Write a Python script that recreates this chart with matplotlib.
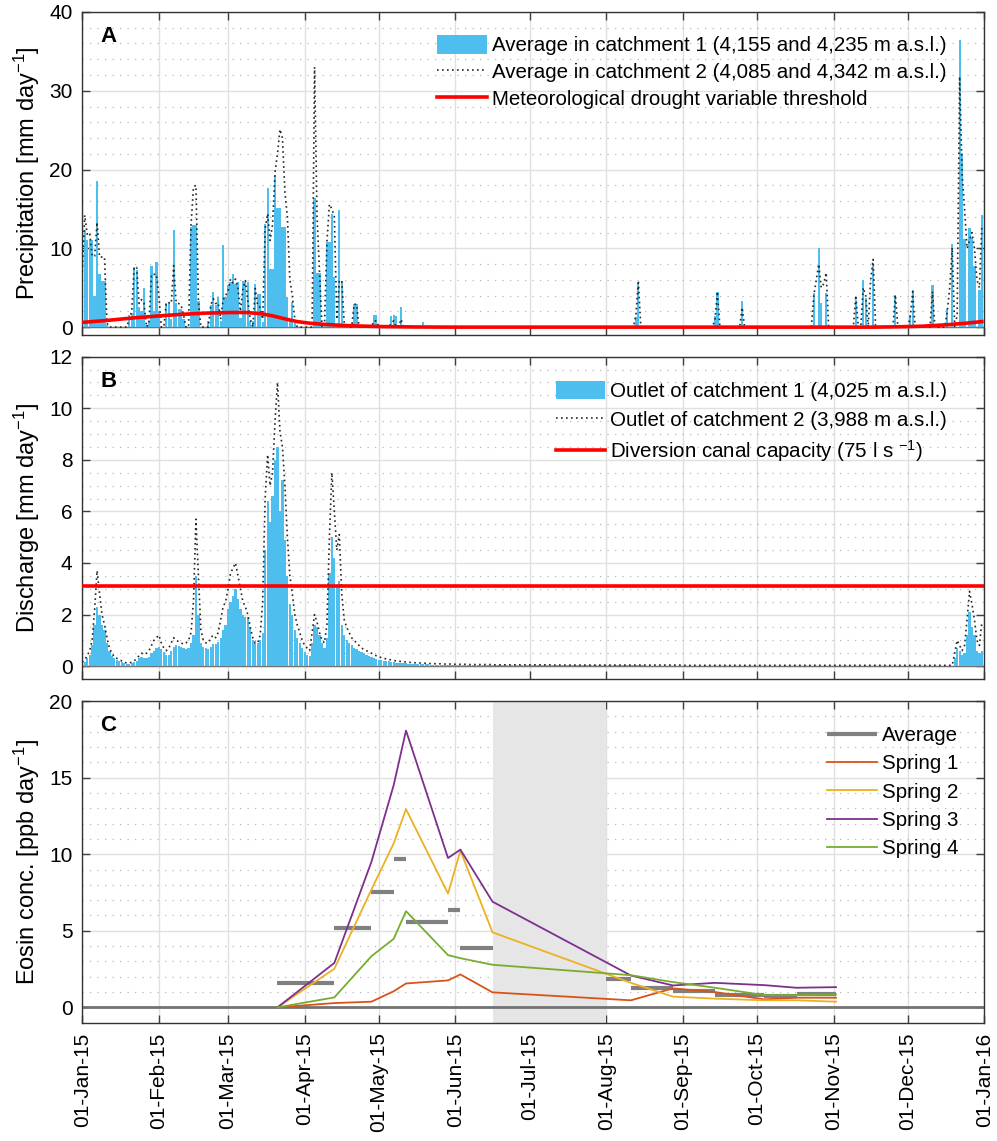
import numpy as np
import matplotlib.pyplot as plt
import matplotlib.dates as mdates
from matplotlib.ticker import MultipleLocator

plt.rcParams['font.family'] = ['Liberation Sans', 'DejaVu Sans']
plt.rcParams['mathtext.default'] = 'regular'

## DATA ##
year_start = np.datetime64('2015-01-01')
n_days = 365

# Precipitation, catchment 1 (bars): day of year (0 = 1 Jan) and value [mm/day]
p1_day = [0, 1, 2, 3, 4, 5, 6, 7, 8, 9, 10, 19, 20, 21, 22, 23, 24, 25, 26, 27,
          28, 29, 30, 31, 34, 35, 36, 37, 38, 39, 40, 41, 44, 45, 46, 47, 51, 52, 53, 54,
          55, 56, 57, 58, 59, 60, 61, 62, 63, 64, 65, 66, 67, 68, 69, 70, 71, 72, 73, 74,
          75, 76, 77, 78, 79, 80, 81, 82, 83, 84, 85, 86, 94, 95, 96, 99, 100, 101, 102, 103,
          104, 105, 106, 110, 111, 118, 119, 125, 126, 127, 129, 138, 224, 225, 256, 257, 267, 296, 298, 299,
          301, 313, 316, 317, 320, 329, 335, 336, 344, 350, 352, 355, 356, 357, 359, 360, 361, 363, 364]
p1_val = [3.0, 12.3, 11.1, 11.1, 11.0, 4.0, 18.5, 6.7, 5.8, 5.8, 0.3, 1.6, 1.8, 7.6, 7.3, 2.5, 2.0, 5.0, 0.3, 0.8,
          7.8, 2.0, 8.3, 2.0, 3.1, 3.1, 1.0, 12.3, 3.1, 2.3, 2.3, 1.0, 12.7, 13.0, 13.0, 3.3, 0.8, 2.8, 4.5, 2.8,
          3.8, 0.8, 10.4, 3.8, 5.4, 5.7, 6.7, 5.5, 5.7, 1.2, 5.9, 5.7, 5.7, 0.8, 0.8, 5.5, 4.2, 4.2, 0.6, 13.1,
          17.6, 7.4, 7.4, 19.3, 15.1, 15.1, 12.7, 12.7, 3.8, 1.0, 3.2, 0.5, 16.4, 6.9, 6.9, 10.8, 10.8, 14.4, 6.3, 0.3,
          14.9, 5.9, 0.3, 2.9, 2.9, 1.55, 1.5, 1.4, 1.6, 1.4, 2.6, 0.7, 1.3, 5.4, 1.4, 4.5, 3.3, 4.3, 10.0, 3.1,
          4.3, 3.4, 6.0, 3.7, 7.8, 4.1, 1.6, 4.7, 5.4, 2.3, 10.6, 36.5, 22.1, 11.2, 12.6, 11.3, 7.8, 4.7, 14.2]

# Precipitation, catchment 2 (dotted line)
p2_day = [0, 1, 2, 3, 4, 5, 6, 7, 8, 9, 10, 19, 20, 21, 22, 23, 24, 25, 27, 28,
          29, 30, 31, 34, 35, 36, 37, 38, 39, 40, 41, 44, 45, 46, 47, 52, 53, 54, 55, 56,
          57, 58, 59, 60, 61, 62, 63, 64, 65, 66, 67, 68, 70, 71, 72, 73, 74, 75, 76, 77,
          78, 79, 80, 81, 82, 83, 84, 85, 86, 94, 95, 96, 99, 100, 101, 102, 103, 104, 105, 106,
          110, 111, 118, 119, 125, 126, 129, 224, 225, 256, 257, 267, 296, 297, 298, 299, 300, 301, 313, 316,
          317, 319, 320, 329, 335, 336, 344, 350, 351, 352, 354, 355, 356, 357, 358, 359, 360, 361, 362, 363, 364]
p2_val = [7.0, 14.2, 11.8, 12.0, 9.0, 9.0, 13.3, 8.9, 8.9, 8.9, 0.5, 1.0, 2.0, 7.6, 7.6, 3.0, 3.5, 3.0, 0.5, 6.7,
          6.7, 6.7, 4.0, 3.1, 3.1, 3.0, 7.8, 3.1, 3.0, 2.8, 1.5, 12.9, 17.8, 18.0, 3.3, 2.8, 3.6, 3.0, 3.1, 1.0,
          3.5, 4.0, 4.6, 6.1, 5.6, 6.1, 4.9, 2.0, 4.9, 5.9, 3.3, 1.0, 4.9, 2.7, 2.5, 1.0, 12.5, 14.4, 11.0, 13.0,
          19.7, 22.0, 25.1, 24.0, 17.1, 14.0, 6.0, 4.0, 1.0, 33.0, 14.0, 6.9, 10.8, 15.6, 15.0, 14.0, 1.0, 5.9, 5.9, 0.5,
          2.9, 2.9, 0.8, 0.8, 0.5, 0.8, 1.0, 1.5, 5.9, 1.0, 4.5, 2.5, 4.0, 6.0, 8.0, 5.0, 5.5, 6.9, 4.0, 5.0,
          4.0, 6.0, 8.6, 4.1, 1.2, 4.5, 4.5, 2.0, 5.0, 10.1, 1.5, 31.8, 19.5, 15.0, 10.0, 11.0, 12.0, 10.0, 6.0, 5.0, 13.0]

# Meteorological drought variable threshold
thr_day = [0, 10, 20, 30, 40, 50, 60, 66, 72, 77, 82, 87, 92, 97, 104, 111, 121, 135, 150,
           320, 330, 340, 350, 357, 364]
thr_val = [0.6, 0.85, 1.15, 1.4, 1.62, 1.78, 1.85, 1.86, 1.72, 1.43, 1.05, 0.7, 0.5, 0.37, 0.24, 0.15, 0.07, 0.02, 0.0,
           0.0, 0.04, 0.12, 0.3, 0.48, 0.7]

# Discharge, outlet of catchment 1 (bars), daily values per month
q1_months = [
    [0.10, 0.15, 0.30, 0.45, 0.80, 1.60, 2.30, 2.00, 1.60, 1.40, 0.90, 0.60, 0.40, 0.30, 0.25, 0.20,
     0.15, 0.12, 0.10, 0.10, 0.12, 0.15, 0.20, 0.30, 0.35, 0.30, 0.30, 0.35, 0.50, 0.60, 0.70],
    [0.75, 0.65, 0.55, 0.45, 0.45, 0.60, 0.75, 0.80, 0.78, 0.75, 0.70, 0.65, 0.70, 0.90, 1.20, 3.50,
     2.00, 0.90, 0.75, 0.70, 0.65, 0.75, 0.85, 0.85, 0.95, 1.10, 1.40, 1.60],
    [2.20, 2.50, 2.70, 3.00, 2.60, 2.20, 2.00, 1.90, 1.90, 1.50, 1.00, 0.90, 0.90, 1.00, 1.30, 4.50,
     6.40, 5.60, 6.60, 8.00, 8.50, 6.00, 7.20, 4.90, 3.50, 2.40, 2.00, 1.40, 1.10, 0.90, 0.70],
    [0.55, 0.45, 0.40, 0.90, 1.60, 1.50, 1.20, 0.90, 0.70, 1.10, 3.60, 5.00, 4.20, 3.10, 3.30, 1.60,
     1.20, 1.00, 0.90, 0.80, 0.70, 0.65, 0.60, 0.55, 0.50, 0.45, 0.40, 0.35, 0.30, 0.27],
    [0.25, 0.23, 0.21, 0.20, 0.18, 0.17, 0.15, 0.14, 0.13, 0.12, 0.12, 0.11, 0.10, 0.10, 0.09, 0.09,
     0.08, 0.08, 0.07, 0.07, 0.07, 0.06, 0.06, 0.06, 0.05, 0.05, 0.05, 0.05, 0.04, 0.04, 0.04],
    [0.04, 0.04, 0.04, 0.04, 0.04, 0.04, 0.04, 0.04, 0.04, 0.04, 0.04, 0.04, 0.04, 0.04, 0.04, 0.03,
     0.03, 0.03, 0.03, 0.03, 0.03, 0.03, 0.03, 0.03, 0.03, 0.03, 0.03, 0.03, 0.03, 0.03],
    [0.03, 0.03, 0.03, 0.03, 0.03, 0.03, 0.03, 0.03, 0.03, 0.03, 0.03, 0.03, 0.03, 0.03, 0.03, 0.03,
     0.03, 0.03, 0.03, 0.03, 0.03, 0.03, 0.03, 0.03, 0.03, 0.03, 0.03, 0.03, 0.03, 0.03, 0.03],
    [0.03, 0.03, 0.03, 0.03, 0.03, 0.03, 0.03, 0.03, 0.03, 0.03, 0.03, 0.03, 0.03, 0.03, 0.03, 0.03,
     0.02, 0.02, 0.02, 0.02, 0.02, 0.02, 0.02, 0.02, 0.02, 0.02, 0.02, 0.02, 0.02, 0.02, 0.02],
    [0.02, 0.02, 0.02, 0.02, 0.02, 0.02, 0.02, 0.02, 0.02, 0.02, 0.02, 0.02, 0.02, 0.02, 0.02, 0.02,
     0.02, 0.02, 0.02, 0.02, 0.02, 0.02, 0.02, 0.02, 0.02, 0.02, 0.02, 0.02, 0.02, 0.02],
    [0.02, 0.02, 0.02, 0.02, 0.02, 0.02, 0.02, 0.02, 0.02, 0.02, 0.02, 0.02, 0.02, 0.02, 0.02, 0.02,
     0.02, 0.02, 0.02, 0.02, 0.02, 0.02, 0.02, 0.02, 0.02, 0.02, 0.02, 0.02, 0.02, 0.02, 0.02],
    [0.02, 0.02, 0.02, 0.02, 0.02, 0.02, 0.02, 0.02, 0.02, 0.02, 0.02, 0.02, 0.02, 0.02, 0.02, 0.02,
     0.02, 0.02, 0.02, 0.02, 0.02, 0.02, 0.02, 0.02, 0.02, 0.02, 0.02, 0.02, 0.02, 0.02],
    [0.02, 0.02, 0.02, 0.02, 0.02, 0.02, 0.02, 0.02, 0.02, 0.02, 0.02, 0.02, 0.02, 0.02, 0.02, 0.02,
     0.02, 0.02, 0.02, 0.30, 0.70, 0.60, 0.45, 0.50, 1.20, 2.10, 1.50, 1.20, 0.60, 0.50, 0.60],
]

# Discharge, outlet of catchment 2 (dotted line)
q2_months = [
    [0.15, 0.25, 0.40, 0.60, 1.00, 2.20, 3.70, 2.80, 2.00, 1.60, 1.10, 0.70, 0.50, 0.35, 0.30, 0.25,
     0.20, 0.15, 0.12, 0.12, 0.15, 0.20, 0.30, 0.40, 0.50, 0.45, 0.50, 0.60, 0.80, 1.00, 1.10],
    [1.20, 0.90, 0.70, 0.60, 0.70, 0.90, 1.10, 1.00, 0.95, 0.90, 0.85, 0.90, 1.00, 1.30, 2.50, 5.70,
     3.50, 1.40, 1.00, 0.90, 0.90, 1.10, 1.20, 1.10, 1.30, 1.80, 2.30, 2.50],
    [3.00, 3.60, 3.80, 4.00, 3.50, 3.00, 2.50, 2.30, 2.00, 1.50, 1.10, 0.90, 0.90, 1.20, 2.50, 6.50,
     8.20, 7.00, 7.50, 9.50, 11.00, 9.10, 8.50, 7.00, 5.00, 3.50, 2.80, 2.00, 1.60, 1.30, 1.00],
    [0.80, 0.70, 0.60, 1.30, 2.00, 1.70, 1.30, 1.00, 0.90, 1.60, 5.00, 7.50, 6.00, 4.50, 5.10, 2.80,
     1.80, 1.50, 1.30, 1.10, 1.00, 0.90, 0.80, 0.70, 0.65, 0.60, 0.55, 0.50, 0.45, 0.40],
    [0.36, 0.33, 0.30, 0.28, 0.26, 0.24, 0.22, 0.20, 0.19, 0.18, 0.17, 0.16, 0.15, 0.14, 0.13, 0.13,
     0.12, 0.12, 0.11, 0.11, 0.10, 0.10, 0.10, 0.09, 0.09, 0.09, 0.08, 0.08, 0.08, 0.08, 0.07],
    [0.07, 0.07, 0.07, 0.07, 0.07, 0.06, 0.06, 0.06, 0.06, 0.06, 0.06, 0.06, 0.06, 0.06, 0.06, 0.05,
     0.05, 0.05, 0.05, 0.05, 0.05, 0.05, 0.05, 0.05, 0.05, 0.05, 0.05, 0.05, 0.05, 0.05],
    [0.05, 0.05, 0.05, 0.05, 0.05, 0.05, 0.05, 0.05, 0.05, 0.05, 0.04, 0.04, 0.04, 0.04, 0.04, 0.04,
     0.04, 0.04, 0.04, 0.04, 0.04, 0.04, 0.04, 0.04, 0.04, 0.04, 0.04, 0.04, 0.04, 0.04, 0.04],
    [0.04, 0.04, 0.04, 0.04, 0.04, 0.04, 0.04, 0.04, 0.04, 0.04, 0.04, 0.04, 0.04, 0.04, 0.04, 0.04,
     0.04, 0.04, 0.04, 0.04, 0.04, 0.04, 0.04, 0.04, 0.04, 0.04, 0.04, 0.04, 0.04, 0.04, 0.04],
    [0.03, 0.03, 0.03, 0.03, 0.03, 0.03, 0.03, 0.03, 0.03, 0.03, 0.03, 0.03, 0.03, 0.03, 0.03, 0.03,
     0.03, 0.03, 0.03, 0.03, 0.03, 0.03, 0.03, 0.03, 0.03, 0.03, 0.03, 0.03, 0.03, 0.03],
    [0.03, 0.03, 0.03, 0.03, 0.03, 0.03, 0.03, 0.03, 0.03, 0.03, 0.03, 0.03, 0.03, 0.03, 0.03, 0.03,
     0.03, 0.03, 0.03, 0.03, 0.03, 0.03, 0.03, 0.03, 0.03, 0.03, 0.03, 0.03, 0.03, 0.03, 0.03],
    [0.03, 0.03, 0.03, 0.03, 0.03, 0.03, 0.03, 0.03, 0.03, 0.03, 0.03, 0.03, 0.03, 0.03, 0.03, 0.03,
     0.03, 0.03, 0.03, 0.03, 0.03, 0.03, 0.03, 0.03, 0.03, 0.03, 0.03, 0.03, 0.03, 0.03],
    [0.03, 0.03, 0.03, 0.03, 0.03, 0.03, 0.03, 0.03, 0.03, 0.03, 0.03, 0.03, 0.03, 0.03, 0.03, 0.03,
     0.03, 0.03, 0.03, 0.50, 1.00, 0.80, 0.60, 0.80, 1.80, 2.90, 2.40, 1.80, 1.00, 0.80, 1.70],
]

canal_capacity = 3.1  # mm/day (75 l/s)

# Eosin concentrations: sampling dates and values [ppb/day]
sample_dates = ['2015-03-21', '2015-04-13', '2015-04-28', '2015-05-07', '2015-05-12', '2015-05-29',
                '2015-06-03', '2015-06-16', '2015-08-11', '2015-08-28', '2015-09-14', '2015-10-04',
                '2015-10-17', '2015-11-02']
spring1 = [0, 0.28, 0.37, 1.05, 1.56, 1.76, 2.15, 0.98, 0.46, 1.24, 1.0, 0.52, 0.63, 0.63]
spring2 = [0, 2.52, 7.69, 10.7, 12.94, 7.43, 10.23, 4.9, 1.6, 0.7, 0.57, 0.46, 0.46, 0.37]
spring3 = [0, 2.9, 9.5, 14.5, 18.07, 9.75, 10.3, 6.9, 2.08, 1.43, 1.6, 1.45, 1.28, 1.32]
spring4 = [0, 0.65, 3.34, 4.47, 6.28, 3.41, 3.21, 2.78, 2.1, 1.65, 1.28, 0.8, 0.8, 0.85]

avg_start = ['2015-03-21', '2015-04-13', '2015-04-28', '2015-05-07', '2015-05-12', '2015-05-29',
             '2015-06-03', '2015-08-01', '2015-08-11', '2015-08-28', '2015-09-14', '2015-10-04',
             '2015-10-17']
avg_end = ['2015-04-13', '2015-04-28', '2015-05-07', '2015-05-12', '2015-05-29', '2015-06-03',
           '2015-06-16', '2015-08-11', '2015-08-28', '2015-09-14', '2015-10-04', '2015-10-17',
           '2015-11-02']
avg_val = [1.56, 5.21, 7.54, 9.7, 5.58, 6.38, 3.89, 1.82, 1.24, 1.1, 0.8, 0.74, 0.85]

gap_period = ['2015-06-16', '2015-08-01']  # no sampling (shaded)

## BUILD DAILY SERIES ##
dates = year_start + np.arange(n_days)
p1 = np.zeros(n_days)
p1[p1_day] = p1_val
p2 = np.zeros(n_days)
p2[p2_day] = p2_val
q1 = np.concatenate([np.array(m) for m in q1_months])
q2 = np.concatenate([np.array(m) for m in q2_months])
thr_dates = year_start + np.array(thr_day)
s_dates = np.array(sample_dates, dtype='datetime64[D]')

blue = '#4DBEEE'
spring_colors = ['#D95319', '#EDB120', '#7E2F8E', '#77AC30']
fs_tick = 15
fs_lab = 17
fs_leg = 14.8
leg_kw = dict(frameon=False, fontsize=fs_leg, handlelength=2.4, handletextpad=0.25,
              borderpad=0, borderaxespad=0)


def style_axis(ax, ymin, ymax, major, minor):
    ax.set_xlim(np.datetime64('2015-01-01'), np.datetime64('2016-01-01'))
    ax.set_ylim(ymin, ymax)
    ax.yaxis.set_major_locator(MultipleLocator(major))
    ax.yaxis.set_minor_locator(MultipleLocator(minor))
    ax.xaxis.set_major_locator(mdates.MonthLocator())
    ax.xaxis.set_major_formatter(mdates.DateFormatter('%d-%b-%y'))
    ax.set_axisbelow(True)
    ax.grid(True, which='major', color='0.88', lw=1.0, ls='-')
    ax.grid(True, which='minor', axis='y', color='0.72', lw=0.9, ls=(0, (1, 5)))
    ax.tick_params(which='major', direction='in', length=6, width=1, top=True, right=True,
                   color='0.25', labelsize=fs_tick, pad=7)
    ax.tick_params(which='minor', length=0)
    for s in ax.spines.values():
        s.set_color('0.2')
        s.set_linewidth(1.0)


fig = plt.figure(figsize=(9.97, 11.41), dpi=100)
ax1 = fig.add_axes([0.0825, 0.7064, 0.9048, 0.2831])
ax2 = fig.add_axes([0.0825, 0.4049, 0.9048, 0.2825])
ax3 = fig.add_axes([0.0825, 0.1037, 0.9048, 0.2819])

# Panel A: precipitation
bars1 = ax1.bar(dates, p1, width=0.9, color=blue, edgecolor='none', zorder=2)
line2, = ax1.plot(dates, p2, ls=(0, (1, 2)), color='0.15', lw=1.2, zorder=3)
thr_line, = ax1.plot(thr_dates, thr_val, color='red', lw=2.6, zorder=4)
ax1.axhline(0, color='0.45', lw=1.0, zorder=1.5)
style_axis(ax1, -1, 40, 10, 2)
ax1.tick_params(labelbottom=False)
ax1.set_ylabel('Precipitation [mm day$^{-1}$]', fontsize=fs_lab, labelpad=5)
ax1.text(0.02, 0.923, 'A', transform=ax1.transAxes, fontsize=16, fontweight='bold', va='center')
ax1.legend([bars1, line2, thr_line],
           ['Average in catchment 1 (4,155 and 4,235 m a.s.l.)',
            'Average in catchment 2 (4,085 and 4,342 m a.s.l.)',
            'Meteorological drought variable threshold'],
           loc='upper right', bbox_to_anchor=(0.958, 0.928), handleheight=1.0, labelspacing=0.32,
           **leg_kw)

# Panel B: discharge
bars2 = ax2.bar(dates, q1, width=0.9, color=blue, edgecolor='none', zorder=2)
qline2, = ax2.plot(dates, q2, ls=(0, (1, 2)), color='0.15', lw=1.2, zorder=3)
cap_line = ax2.axhline(canal_capacity, color='red', lw=2.6, zorder=4)
ax2.axhline(0, color='0.45', lw=1.0, zorder=1.5)
style_axis(ax2, -0.5, 12, 2, 0.5)
ax2.tick_params(labelbottom=False)
ax2.set_ylabel('Discharge [mm day$^{-1}$]', fontsize=fs_lab, labelpad=5)
ax2.text(0.02, 0.923, 'B', transform=ax2.transAxes, fontsize=16, fontweight='bold', va='center')
ax2.legend([bars2, qline2, cap_line],
           ['Outlet of catchment 1 (4,025 m a.s.l.)',
            'Outlet of catchment 2 (3,988 m a.s.l.)',
            'Diversion canal capacity (75 l s $^{-1}$)'],
           loc='upper right', bbox_to_anchor=(0.959, 0.926), handleheight=1.0, labelspacing=0.42,
           **leg_kw)

# Panel C: eosin concentrations
ax3.axvspan(np.datetime64(gap_period[0]), np.datetime64(gap_period[1]), color='0.9', lw=0, zorder=1)
ax3.axhline(0, color='0.45', lw=2.0, zorder=1.5)
avg_h = ax3.hlines(avg_val, np.array(avg_start, dtype='datetime64[D]'),
                   np.array(avg_end, dtype='datetime64[D]'), color='0.5', lw=3, zorder=2)
handles = [avg_h]
for vals, col in zip([spring1, spring2, spring3, spring4], spring_colors):
    h, = ax3.plot(s_dates, vals, color=col, lw=1.3, zorder=3)
    handles.append(h)
style_axis(ax3, -1, 20, 5, 1)
ax3.set_ylabel('Eosin conc. [ppb day$^{-1}$]', fontsize=fs_lab, labelpad=5)
ax3.text(0.02, 0.923, 'C', transform=ax3.transAxes, fontsize=16, fontweight='bold', va='center')
plt.setp(ax3.get_xticklabels(), rotation=90, ha='center', va='top')
ax3.legend(handles, ['Average', 'Spring 1', 'Spring 2', 'Spring 3', 'Spring 4'],
           loc='upper right', bbox_to_anchor=(0.971, 0.922), labelspacing=0.45, **leg_kw)

fig.savefig('out.png', dpi=100)
